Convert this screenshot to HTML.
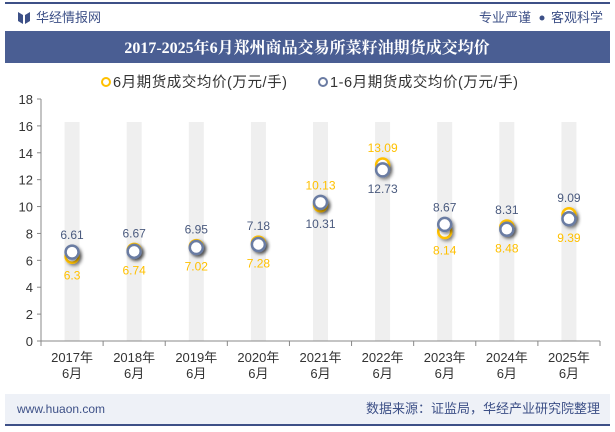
<!DOCTYPE html>
<html><head><meta charset="utf-8"><style>
body{margin:0;width:615px;height:427px;overflow:hidden;background:#fff;font-family:"Liberation Sans","Noto Sans CJK SC",sans-serif;}
</style></head><body>
<svg width="615" height="427" xmlns="http://www.w3.org/2000/svg" style="font-family:'Liberation Sans','Noto Sans CJK SC',sans-serif">
<defs><filter id="sh" x="-50%" y="-50%" width="200%" height="200%"><feDropShadow dx="2" dy="2" stdDeviation="1.5" flood-color="#000" flood-opacity="0.45"/></filter></defs>
<rect x="5" y="2" width="605" height="2" fill="#3d5087"/>
<path d="M18 12 L23 15 L23 24 L18 21 Z M30 12 L25 15 L25 24 L30 21 Z" fill="#3d5087"/>
<text x="36" y="22" font-size="13" fill="#3d5087">华经情报网</text>
<text x="531" y="22" font-size="13" fill="#3d5087" text-anchor="end">专业严谨</text>
<circle cx="542" cy="18" r="2.5" fill="#3d5087"/>
<text x="603" y="22" font-size="13" fill="#3d5087" text-anchor="end">客观科学</text>
<rect x="5" y="31" width="605" height="32" fill="#4a5e93"/>
<text x="307" y="53" font-size="16" font-weight="bold" fill="#fff" text-anchor="middle" font-family="'Liberation Serif','Noto Serif CJK SC',serif">2017-2025年6月郑州商品交易所菜籽油期货成交均价</text>
<g>
<circle cx="106" cy="82" r="4" fill="#fff" stroke="#ffc000" stroke-width="2"/>
<text x="113" y="87" font-size="14.5" fill="#333" textLength="174">6月期货成交均价(万元/手)</text>
<circle cx="323" cy="82" r="4" fill="#fff" stroke="#6a7ba2" stroke-width="2"/>
<text x="330" y="87" font-size="14.5" fill="#333" textLength="188">1-6月期货成交均价(万元/手)</text>
</g>
<g id="plot"></g>
<rect x="5" y="394" width="605" height="31" fill="#eef1f7"/>
<rect x="5" y="424" width="605" height="2" fill="#3d5087"/>
<text x="17" y="413" font-size="12" fill="#3d5087">www.huaon.com</text>
<text x="600" y="413" font-size="13" fill="#3d5087" text-anchor="end">数据来源：证监局，华经产业研究院整理</text>
</svg>
<script>
const categories=["2017年","2018年","2019年","2020年","2021年","2022年","2023年","2024年","2025年"];
const juneValues=[6.3,6.74,7.02,7.28,10.13,13.09,8.14,8.48,9.39];
const ytdValues=[6.61,6.67,6.95,7.18,10.31,12.73,8.67,8.31,9.09];
const juneLabelAbove=[false,false,false,false,true,true,false,false,false];
const yTicks=[0,2,4,6,8,10,12,14,16,18];
const NS="http://www.w3.org/2000/svg";
const g=document.getElementById('plot');
const x0=41,x1=600,y0=341,y1=99,yMax=18;
const band=(x1-x0)/categories.length;
const xs=i=>x0+band*(i+0.5);
const ys=v=>y0-(v/yMax)*(y0-y1);
function mk(t,a,p){const e=document.createElementNS(NS,t);for(const k in a)e.setAttribute(k,a[k]);(p||g).appendChild(e);return e;}
categories.forEach((c,i)=>{
 const b=mk('rect',{x:xs(i)-7.5,y:122,width:15,height:y0-122,fill:'#efefef'});
 
 
});
mk('line',{x1:x0,y1:y1,x2:x0,y2:y0,stroke:'#888'});
mk('line',{x1:x0,y1:y0,x2:x1,y2:y0,stroke:'#888'});
yTicks.forEach(v=>{
 mk('line',{x1:x0-4,y1:ys(v),x2:x0,y2:ys(v),stroke:'#888'});
 const t=mk('text',{x:x0-8,y:ys(v)+5,'font-size':13,fill:'#333','text-anchor':'end'});t.textContent=v;
 
 
});
for(let i=0;i<=categories.length;i++)mk('line',{x1:x0+band*i,y1:y0,x2:x0+band*i,y2:y0+5,stroke:'#888'});
categories.forEach((c,i)=>{
 const t=mk('text',{x:xs(i),y:362,'font-size':13,fill:'#333','text-anchor':'middle'});t.textContent=c;
 
 
 const t2=mk('text',{x:xs(i),y:378,'font-size':13,fill:'#333','text-anchor':'middle'});t2.textContent='6月';
 
 
});
categories.forEach((c,i)=>{
 const p=mk('circle',{cx:xs(i),cy:ys(juneValues[i]),r:6.5,fill:'#fff',stroke:'#ffc000','stroke-width':2.5,filter:'url(#sh)'});
 
 
});
categories.forEach((c,i)=>{
 const p=mk('circle',{cx:xs(i),cy:ys(ytdValues[i]),r:6.5,fill:'#fff',stroke:'#6a7ba2','stroke-width':2.5,filter:'url(#sh)'});
 
 
});
categories.forEach((c,i)=>{
 const hi=Math.max(juneValues[i],ytdValues[i]),lo=Math.min(juneValues[i],ytdValues[i]);
 const up=ys(hi)-13,dn=ys(lo)+23;
 const ja=juneLabelAbove[i];
 const a=mk('text',{x:xs(i),y:ja?up:dn,'font-size':12,fill:'#ffc000','text-anchor':'middle'});a.textContent=juneValues[i];
 
 
 const b=mk('text',{x:xs(i),y:ja?dn:up,'font-size':12,fill:'#4a5a7e','text-anchor':'middle'});b.textContent=ytdValues[i];
 
 
});
</script>
</body></html>
